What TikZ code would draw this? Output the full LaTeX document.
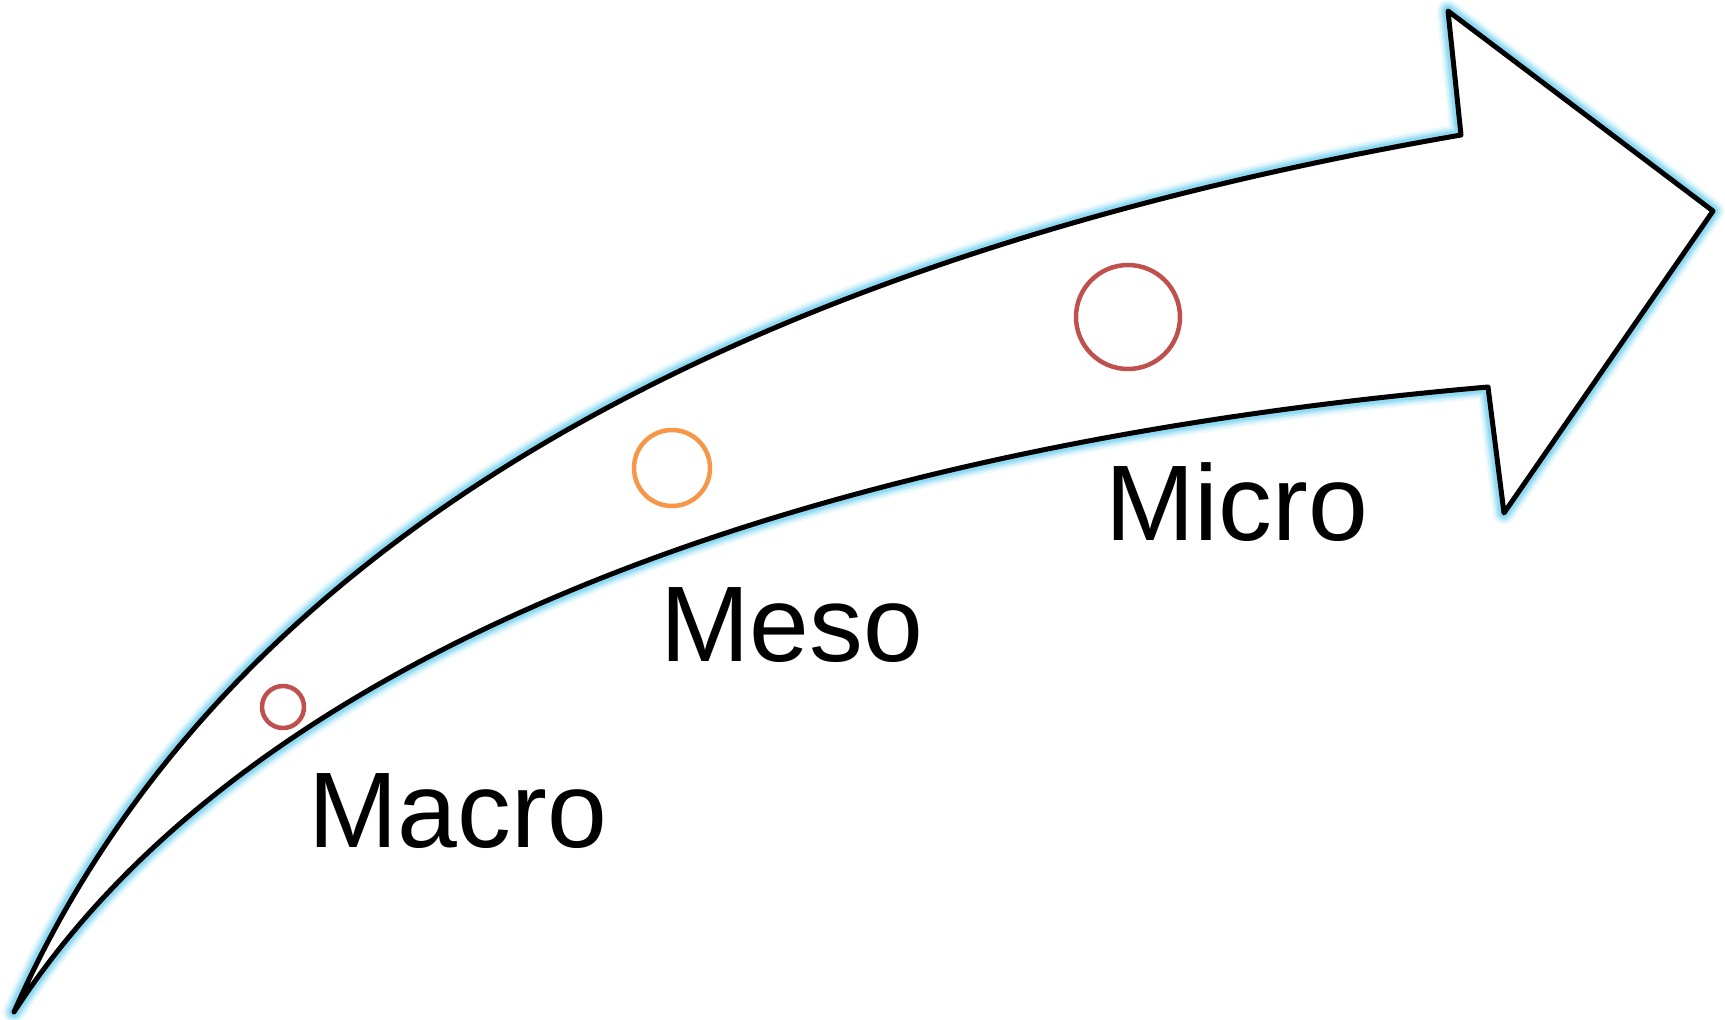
\documentclass[tikz,border=0pt]{standalone}
\usepackage{fontspec}
\setmainfont{Liberation Sans}
\definecolor{glowblue}{RGB}{120,210,240}
\definecolor{scalered}{RGB}{192,80,77}
\definecolor{scaleorange}{RGB}{247,150,70}
\begin{document}
\begin{tikzpicture}[x=1pt,y=-1pt,
  ring/.style={circle,draw=#1,line width=4.5pt,inner sep=0pt,fill=none},
  glow/.style={glowblue,line join=round,line width=#1},
  scalelabel/.style={anchor=base west,inner sep=0pt,font=\fontsize{107.5}{120}\selectfont}]
\useasboundingbox (0,0) rectangle (1725,1020);

% outline points of the curved arrow
\coordinate (tail) at (14,1012);
\coordinate (upin) at (1461,135);
\coordinate (upbarb) at (1448,11);
\coordinate (tip) at (1713,211);
\coordinate (lobarb) at (1504,513);
\coordinate (loin) at (1488,387);

\def\arrowpath{(tail) .. controls (210,566) and (692,268) .. (upin)
  -- (upbarb) -- (tip) -- (lobarb) -- (loin)
  .. controls (740,452) and (230,678) .. (tail) -- cycle}

% soft blue glow around the outline
\draw[glow=23pt,opacity=0.12] \arrowpath;
\draw[glow=19pt,opacity=0.2] \arrowpath;
\draw[glow=15pt,opacity=0.35] \arrowpath;
\draw[glow=11pt,opacity=0.6] \arrowpath;
% arrow body
\filldraw[fill=white,draw=black,line width=5pt,line join=round] \arrowpath;

% scale markers
\node[ring=scalered,minimum size=42pt] (macroc) at (283,707) {};
\node[ring=scaleorange,minimum size=76pt] (mesoc) at (672,468) {};
\node[ring=scalered,minimum size=104pt] (microc) at (1128,317) {};

% labels
\node[scalelabel] (macro) at (308,847) {Macro};
\node[scalelabel] (meso) at (660,661) {Meso};
\node[scalelabel] (micro) at (1105,540) {Micro};
\end{tikzpicture}
\end{document}
